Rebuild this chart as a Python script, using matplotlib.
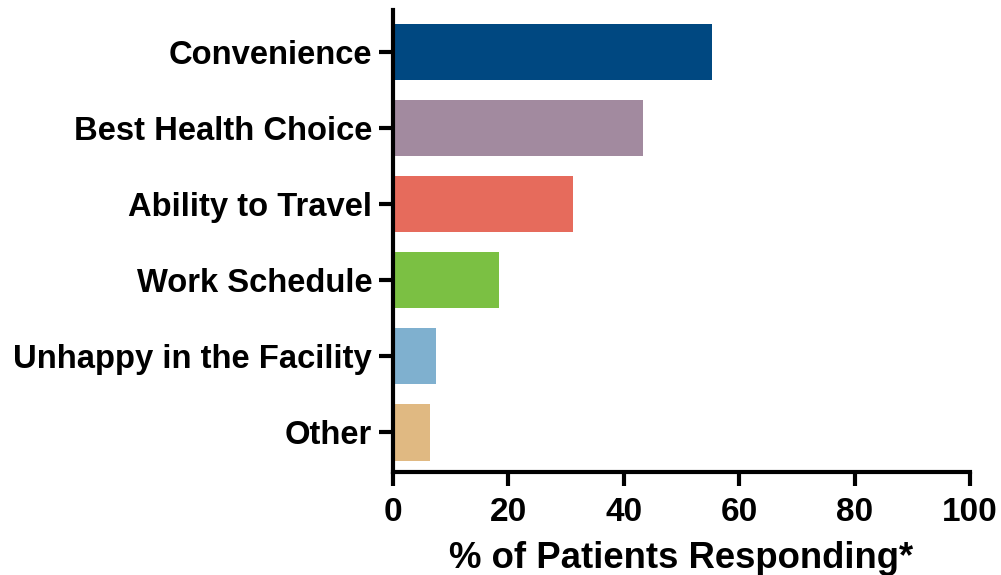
import matplotlib
matplotlib.use("Agg")
import matplotlib.pyplot as plt

# data
categories = ["Convenience", "Best Health Choice", "Ability to Travel",
              "Work Schedule", "Unhappy in the Facility", "Other"]
values = [55.2, 43.3, 31.2, 18.3, 7.5, 6.4]
colors = ["#004881", "#a28a9f", "#e66b5c", "#7bc043", "#7fb0cf", "#e0b982"]
x_ticks = [0, 20, 40, 60, 80, 100]

plt.rcParams["font.family"] = ["Liberation Sans", "DejaVu Sans"]
plt.rcParams["font.weight"] = "bold"

fig = plt.figure(figsize=(10.01, 5.75), dpi=100)
ax = fig.add_axes([393 / 1001, 1 - 472 / 575, 577 / 1001, 462 / 575])

ypos = list(range(len(categories)))[::-1]
ax.barh(ypos, values, height=0.74, color=colors, zorder=2)

ax.set_xlim(0, 100)
ax.set_ylim(-0.52, len(categories) - 0.45)
ax.set_xticks(x_ticks)
ax.set_xticklabels([str(t) for t in x_ticks], fontsize=24, fontweight="bold")
ax.set_yticks(ypos)
ax.set_yticklabels(categories, fontsize=23.6, fontweight="bold")
ax.set_xlabel("% of Patients Responding*", fontsize=26.3, fontweight="bold", labelpad=9)

for s in ["top", "right"]:
    ax.spines[s].set_visible(False)
for s in ["left", "bottom"]:
    ax.spines[s].set_linewidth(3)
ax.tick_params(axis="both", width=3, length=10)
ax.tick_params(axis="x", pad=8)
ax.tick_params(axis="y", pad=5)

fig.savefig("out.png", dpi=100)
